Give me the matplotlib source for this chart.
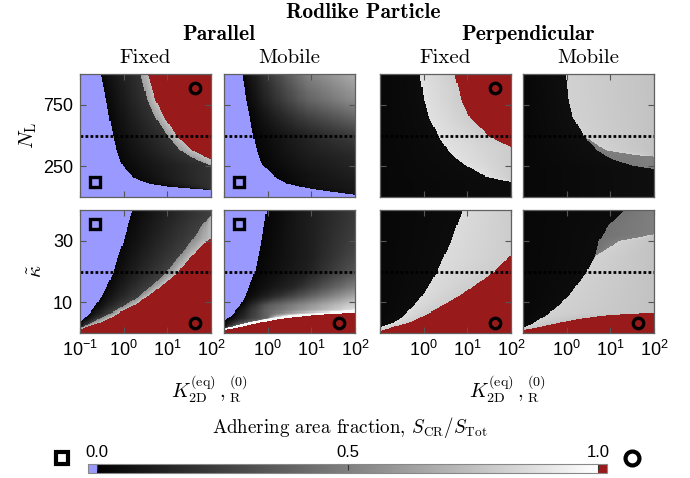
import numpy as np
import matplotlib
matplotlib.use('Agg')
import matplotlib.pyplot as plt
from matplotlib.colors import Normalize
from matplotlib.cm import ScalarMappable
from matplotlib.lines import Line2D

plt.rcParams['font.family'] = ['Liberation Sans', 'DejaVu Sans']
plt.rcParams['mathtext.fontset'] = 'cm'
plt.rcParams['mathtext.rm'] = 'Liberation Sans'
plt.rcParams['mathtext.it'] = 'Liberation Sans:italic'
plt.rcParams['mathtext.bf'] = 'Liberation Sans:bold'
plt.rcParams['mathtext.sf'] = 'Liberation Sans'

BLUE = '#9999ff'
RED = '#991a1a'
UNBOUND = -1.0   # drawn as the "under" colour
WRAPPED = 2.0    # drawn as the "over" colour

# phase boundaries, given as log10(K) at each sample level of the y quantity
nl_levels = [0, 50, 60, 85, 110, 140, 170, 250, 300, 340, 380, 500, 650, 790, 1000]
kappa_levels = [0, 1, 2, 3.5, 5, 6, 7, 9, 12, 15, 20, 25, 30, 35, 40]

# parallel / fixed, N_L
pf_top_unbound = [3, 3, 1.9, 1.05, 0.6, 0.35, 0.2, -0.02, -0.08, -0.12, -0.16, -0.24, -0.33, -0.40, -0.53]
pf_top_band = [3, 3, 3, 3, 3, 3, 3, 2.02, 1.68, 1.48, 1.30, 1.0, 0.72, 0.54, 0.38]
pf_top_wrapped = [3, 3, 3, 3, 3, 3, 3, 3, 2.02, 1.8, 1.58, 1.21, 0.92, 0.73, 0.55]
# parallel / mobile, N_L
pm_top_unbound = [2.4, 1.35, 1.15, 0.75, 0.45, 0.28, 0.16, -0.10, -0.17, -0.21, -0.25, -0.33, -0.41, -0.49, -0.59]
pm_top_mid = [0.9, 0.9, 0.9, 0.9, 0.9, 0.9, 0.9, 0.9, 0.9, 0.9, 0.9, 0.9, 0.9, 0.9, 0.9]
pm_top_mid_gray = [0.05, 0.05, 0.05, 0.06, 0.06, 0.07, 0.07, 0.09, 0.1, 0.11, 0.12, 0.14, 0.25, 0.38, 0.5]
pm_top_edge_gray = [0.08, 0.09, 0.09, 0.1, 0.1, 0.11, 0.12, 0.14, 0.15, 0.16, 0.18, 0.24, 0.4, 0.55, 0.68]
# perpendicular / fixed, N_L
qf_top_partial = [3, 3, 3, 3, 2.3, 1.77, 1.4, 0.99, 0.78, 0.67, 0.56, 0.33, 0.12, 0.01, -0.09]
qf_top_wrapped = [3, 3, 3, 3, 3, 3, 3, 3, 3, 2.6, 2.15, 1.47, 1.05, 0.86, 0.71]
# perpendicular / mobile, N_L
qm_top_partial = [3, 3, 3, 3, 3, 3, 3, 1.55, 1.08, 0.87, 0.7, 0.39, 0.14, 0.04, -0.03]
qm_top_light = [3, 3, 3, 3, 3, 3, 3, 3, 3, 1.6, 0.9, 0.39, 0.14, 0.04, -0.03]

# parallel / fixed, kappa
pf_bot_unbound = [-1.5, -1.5, -1.3, -1.0, -0.88, -0.81, -0.75, -0.64, -0.5, -0.39, -0.23, -0.12, 0.0, 0.1, 0.21]
pf_bot_band = [-1.5, -1.2, -0.93, -0.73, -0.52, -0.37, -0.22, 0.03, 0.37, 0.6, 0.99, 1.28, 1.55, 1.8, 2.1]
pf_bot_wrapped = [-1.5, -1.02, -0.85, -0.52, -0.3, -0.17, -0.05, 0.26, 0.55, 0.84, 1.26, 1.56, 1.9, 2.5, 3]
# parallel / mobile, kappa
pm_bot_unbound = [-1.5, -1.5, -1.3, -1.03, -0.9, -0.82, -0.75, -0.62, -0.51, -0.43, -0.29, -0.21, -0.14, -0.08, -0.02]
pm_bot_mid = [-1.5, -1.2, -0.85, -0.45, 0.0, 0.0, 0.0, 0.0, 0.3, 0.6, 0.9, 1.0, 1.0, 1.0, 1.0]
pm_bot_white = [-1.5, -1.2, -0.85, -0.45, 0.1, 0.55, 1.6, 3, 3, 3, 3, 3, 3, 3, 3]
pm_bot_wrapped = [-1.5, -1.0, -0.62, -0.17, 0.44, 1.1, 2.3, 3, 3, 3, 3, 3, 3, 3, 3]
pm_bot_mid_gray = [0.4, 0.4, 0.4, 0.4, 0.4, 0.4, 0.4, 0.35, 0.2, 0.15, 0.12, 0.12, 0.12, 0.12, 0.12]
pm_bot_edge_gray = [0.85, 0.85, 0.85, 0.85, 0.88, 0.9, 0.9, 0.82, 0.65, 0.5, 0.33, 0.28, 0.25, 0.23, 0.22]
# perpendicular / fixed, kappa
qf_bot_partial = [-1.5, -1.3, -0.98, -0.68, -0.52, -0.44, -0.36, -0.22, -0.04, 0.1, 0.31, 0.47, 0.63, 0.76, 0.90]
qf_bot_wrapped = [-1.2, -0.9, -0.72, -0.32, -0.1, 0.05, 0.2, 0.45, 0.8, 1.12, 1.62, 1.97, 3, 3, 3]
# perpendicular / mobile, kappa
qm_bot_partial = [-1.5, -1.3, -0.95, -0.74, -0.57, -0.45, -0.35, -0.17, 0.04, 0.2, 0.46, 0.65, 0.74, 0.96, 1.33]
qm_bot_light = [-1.5, -1.3, -0.95, -0.74, -0.57, -0.45, -0.35, -0.17, 0.04, 0.2, 0.46, 0.66, 1.2, 3, 3]
qm_bot_wrapped = [-1.5, -1.0, -0.62, -0.15, 0.42, 1.0, 2.3, 3, 3, 3, 3, 3, 3, 3, 3]

col_titles = ['Fixed', 'Mobile', 'Fixed', 'Mobile']
nl_ticks = [250, 750]
kappa_ticks = [10, 30]
k_ticks = [0.1, 1, 10, 100]
k_labels = [r'$10^{-1}$', r'$10^{0}$', r'$10^{1}$', r'$10^{2}$']

# (row, col, boundaries, region values left to right)
panels = [
    (0, 0, [pf_top_unbound, pf_top_band, pf_top_wrapped],
     [UNBOUND, (0.03, 0.2), (0.62, 0.75), WRAPPED]),
    (0, 1, [pm_top_unbound, pm_top_mid],
     [UNBOUND, (0.02, pm_top_mid_gray), (pm_top_mid_gray, pm_top_edge_gray)]),
    (0, 2, [qf_top_partial, qf_top_wrapped],
     [(0.03, 0.05), (0.88, 0.8), WRAPPED]),
    (0, 3, [qm_top_partial, qm_top_light],
     [(0.03, 0.06), (0.48, 0.5), (0.82, 0.76)]),
    (1, 0, [pf_bot_unbound, pf_bot_band, pf_bot_wrapped],
     [UNBOUND, (0.03, 0.25), (0.55, 0.75), WRAPPED]),
    (1, 1, [pm_bot_unbound, pm_bot_mid, pm_bot_white, pm_bot_wrapped],
     [UNBOUND, (0.02, pm_bot_mid_gray), (pm_bot_mid_gray, pm_bot_edge_gray), (0.97, 0.97), WRAPPED]),
    (1, 2, [qf_bot_partial, qf_bot_wrapped],
     [(0.03, 0.05), (0.86, 0.8), WRAPPED]),
    (1, 3, [qm_bot_partial, qm_bot_light, qm_bot_wrapped],
     [(0.03, 0.05), (0.45, 0.5), (0.82, 0.76), WRAPPED]),
]


def phase_field(levels, bounds, regions, ytop, n=120):
    lk = np.linspace(-1, 2, n + 1)
    yy = np.linspace(0, ytop, n + 1)
    xc = 0.5 * (lk[1:] + lk[:-1])
    yc = 0.5 * (yy[1:] + yy[:-1])
    B = np.array([np.interp(yc, levels, b) for b in bounds])
    B = np.maximum.accumulate(B, axis=0)
    lo_edges = np.vstack([np.full(n, -1.0), np.clip(B, -1, 2)])
    hi_edges = np.vstack([np.clip(B, -1, 2), np.full(n, 2.0)])

    def prof(v):
        v = np.broadcast_to(np.asarray(v, float), (len(levels),))
        return np.interp(yc, levels, v)

    vl, vr = [], []
    for reg in regions:
        a, b = reg if isinstance(reg, tuple) else (reg, reg)
        vl.append(prof(a))
        vr.append(prof(b))
    vl, vr = np.array(vl), np.array(vr)

    idx = (xc[None, None, :] >= B[:, :, None]).sum(0)
    rows = np.arange(n)[:, None]
    lo = lo_edges[idx, rows]
    hi = hi_edges[idx, rows]
    frac = np.clip((xc[None, :] - lo) / np.maximum(hi - lo, 1e-9), 0, 1)
    Z = vl[idx, rows] + (vr[idx, rows] - vl[idx, rows]) * frac
    return 10 ** lk, yy, Z


W, H = 690, 478
fig = plt.figure(figsize=(W / 100, H / 100), dpi=100)
cmap = plt.get_cmap('gray').with_extremes(under=BLUE, over=RED)
norm = Normalize(0, 1)

col_x = [80, 224, 380, 523]
row_y = [74, 210]
pw, ph = 131, 123


def fx(x):
    return x / W


def fy(y):
    return 1 - y / H


for row, col, bounds, regions in panels:
    ax = fig.add_axes([fx(col_x[col]), fy(row_y[row] + ph), pw / W, ph / H])
    if row == 0:
        levels, ytop, yline, yt = nl_levels, 1000, 500, nl_ticks
    else:
        levels, ytop, yline, yt = kappa_levels, 40, 20, kappa_ticks
    xe, ye, Z = phase_field(levels, bounds, regions, ytop)
    ax.pcolormesh(xe, ye, Z, cmap=cmap, norm=norm, shading='flat')
    ax.axhline(yline, color='k', lw=2, ls=(0, (1, 0.8)))
    ax.set_xscale('log')
    ax.set_xlim(0.1, 100)
    ax.set_ylim(0, ytop)
    ax.set_xticks(k_ticks)
    ax.minorticks_off()
    ax.set_yticks(yt)
    ax.tick_params(direction='in', top=True, right=True, length=4, width=0.8,
                   color='#555555', labelsize=13, pad=5)
    for s in ax.spines.values():
        s.set_color('#606060')
        s.set_linewidth(0.9)
    if row == 1:
        labs = list(k_labels) if col == 0 else [''] + k_labels[1:]
        ax.set_xticklabels(labs, math_fontfamily='custom')
    else:
        ax.set_xticklabels([])
    if col == 0:
        ax.set_yticklabels([str(t) for t in yt])
    else:
        ax.set_yticklabels([])

    # state markers: square = unbound, circle = fully wrapped
    mk = dict(mfc='none', mec='k', mew=2.4, ls='', transform=ax.transAxes, zorder=5)
    if col < 2:
        ax.plot([0.115], [0.12 if row == 0 else 0.886], marker='s', ms=7, **mk)
    if (row == 0 and col in (0, 2)) or row == 1:
        ax.plot([0.88], [0.886 if row == 0 else 0.08], marker='o', ms=7.5, **mk)

# titles
fig.text(fx(363), fy(13), 'Rodlike Particle', family='cmb10', size=15.5, ha='center', va='center')
fig.text(fx(219), fy(35), 'Parallel', family='cmb10', size=15.5, ha='center', va='center')
fig.text(fx(528), fy(35), 'Perpendicular', family='cmb10', size=15.5, ha='center', va='center')
for c, t in enumerate(col_titles):
    fig.text(fx(col_x[c] + pw / 2), fy(58), t, family='cmr10', size=15, ha='center', va='center')

fig.text(fx(28), fy(135), r'$N_{\mathrm{L}}$', size=15, rotation=90, ha='center', va='center')
fig.text(fx(36), fy(271), r'$\tilde{\kappa}$', size=15, rotation=90, ha='center', va='center')
xlab = r'$K^{(\mathrm{eq})}_{\mathrm{2D}}\,,{}^{(0)}_{\mathrm{R}}$'
fig.text(fx(209), fy(389), xlab, size=14.5, ha='center', va='center')
fig.text(fx(507), fy(389), xlab, size=14.5, ha='center', va='center')

# colour bar
cax = fig.add_axes([fx(88), fy(473), 519 / W, 9 / H])
cb = fig.colorbar(ScalarMappable(norm=norm, cmap=cmap), cax=cax, orientation='horizontal',
                  extend='both', extendrect=True, extendfrac=0.018, ticks=[0, 0.5, 1])
cax.xaxis.set_ticks_position('top')
cax.set_xticklabels(['0.0', '0.5', '1.0'])
cax.tick_params(direction='in', length=4, width=0.8, color='#333333', labelsize=12, pad=3)
cb.outline.set_edgecolor('#888888')
cb.outline.set_linewidth(0.8)
fig.text(fx(350), fy(428), r'Adhering area fraction, $S_{\mathrm{CR}}/S_{\mathrm{Tot}}$',
         family='cmr10', size=13.7, ha='center', va='center')

fig.add_artist(Line2D([fx(62)], [fy(458)], transform=fig.transFigure, marker='s', ms=9,
                      mfc='none', mec='k', mew=3, ls=''))
fig.add_artist(Line2D([fx(632)], [fy(458)], transform=fig.transFigure, marker='o', ms=10,
                      mfc='none', mec='k', mew=3, ls=''))

fig.savefig('out.png', dpi=100)
